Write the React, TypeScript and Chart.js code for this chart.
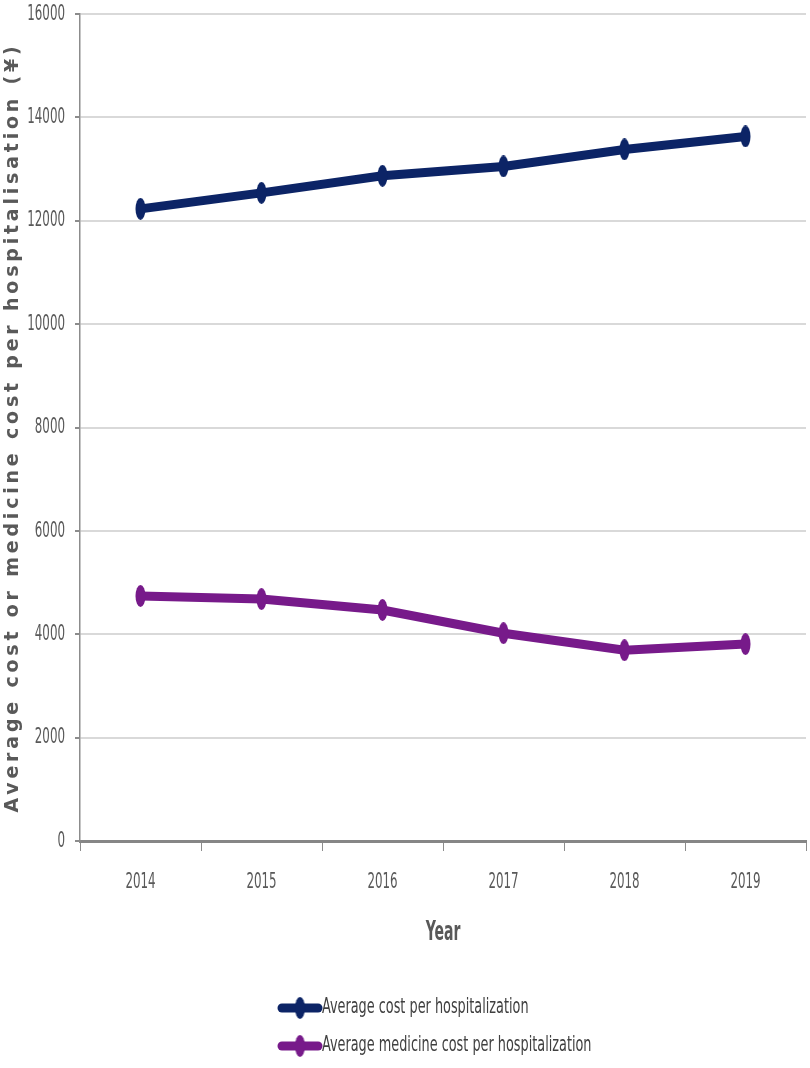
import { useEffect, useRef } from 'react';
import { Chart, registerables } from 'chart.js';

Chart.register(...registerables);

const years = ['2014', '2015', '2016', '2017', '2018', '2019'];
const avgCost = [12230, 12540, 12870, 13050, 13380, 13630];
const avgMedicineCost = [4740, 4680, 4470, 4020, 3690, 3810];
const seriesNames = [
  'Average cost per hospitalization',
  'Average medicine cost per hospitalization',
];
const yTitle = 'Average cost or medicine cost per hospitalisation (¥)';
const xTitle = 'Year';

const NAVY = '#0c2466';
const PURPLE = '#771a8a';
const TEXT = '#595959';
const FAM = "'DejaVu Sans', sans-serif";

// tall ellipse used as the marker
const makeMarker = (color) => {
  const c = document.createElement('canvas');
  c.width = 11;
  c.height = 22;
  const g = c.getContext('2d');
  g.fillStyle = color;
  g.beginPath();
  g.ellipse(5.5, 11, 5, 11, 0, 0, Math.PI * 2);
  g.fill();
  return c;
};

// text drawn horizontally squeezed, like the narrow office font
const squeezed = (ctx, text, x, y, font, sx, align) => {
  ctx.save();
  ctx.translate(x, y);
  ctx.scale(sx, 1);
  ctx.font = font;
  ctx.textAlign = align;
  ctx.textBaseline = 'middle';
  ctx.fillText(text, 0, 0);
  ctx.restore();
};

const textLayer = {
  id: 'textLayer',
  afterDraw(chart) {
    const ctx = chart.ctx;
    const { x, y } = chart.scales;
    const area = chart.chartArea;
    ctx.save();
    ctx.fillStyle = TEXT;

    // axis tick labels, placed by the scales
    y.ticks.forEach((t) => {
      squeezed(ctx, String(t.value), 65, y.getPixelForValue(t.value), `condensed 22px ${FAM}`, 0.6, 'right');
    });
    x.ticks.forEach((t, i) => {
      squeezed(ctx, chart.data.labels[i], x.getPixelForTick(i), 882, `condensed 22px ${FAM}`, 0.6, 'center');
    });

    squeezed(ctx, xTitle, (area.left + area.right) / 2, 933, `bold condensed 26px ${FAM}`, 0.6, 'center');

    // rotated y title with spread letters
    ctx.save();
    ctx.translate(13, (area.top + area.bottom) / 2);
    ctx.rotate(-Math.PI / 2);
    ctx.font = `bold 19px ${FAM}`;
    ctx.letterSpacing = '3.8px';
    ctx.textAlign = 'center';
    ctx.textBaseline = 'middle';
    ctx.fillText(yTitle, 0, 0);
    ctx.restore();

    // legend, two rows
    const x0 = 282;
    const rows = [1008, 1046];
    chart.data.datasets.forEach((ds, i) => {
      const ry = rows[i];
      ctx.strokeStyle = ds.borderColor;
      ctx.lineWidth = 9;
      ctx.lineCap = 'round';
      ctx.beginPath();
      ctx.moveTo(x0, ry);
      ctx.lineTo(x0 + 36, ry);
      ctx.stroke();
      const m = ds.pointStyle;
      ctx.drawImage(m, x0 + 18 - m.width / 2, ry - m.height / 2);
      ctx.fillStyle = '#404040';
      squeezed(ctx, ds.label, x0 + 40, ry, `condensed 21px ${FAM}`, 0.68, 'left');
    });
    ctx.restore();
  },
};

export default function App() {
  const chartRef = useRef(null);
  const chartInstance = useRef(null);

  useEffect(() => {
    document.body.style.margin = '0';
    if (chartInstance.current) {
      chartInstance.current.destroy();
    }
    const ctx = chartRef.current.getContext('2d');

    chartInstance.current = new Chart(ctx, {
      type: 'line',
      data: {
        labels: years,
        datasets: [
          {
            label: seriesNames[0],
            data: avgCost,
            borderColor: NAVY,
            backgroundColor: NAVY,
            borderWidth: 9,
            pointStyle: makeMarker(NAVY),
            pointRadius: 11,
            fill: false,
            tension: 0,
          },
          {
            label: seriesNames[1],
            data: avgMedicineCost,
            borderColor: PURPLE,
            backgroundColor: PURPLE,
            borderWidth: 9,
            pointStyle: makeMarker(PURPLE),
            pointRadius: 11,
            fill: false,
            tension: 0,
          },
        ],
      },
      options: {
        responsive: false,
        animation: false,
        layout: { autoPadding: false, padding: { top: 14, right: 4, bottom: 117, left: 0 } },
        plugins: {
          legend: { display: false },
          tooltip: { enabled: false },
        },
        scales: {
          x: {
            offset: true,
            grid: {
              offset: true,
              drawOnChartArea: false,
              drawTicks: true,
              tickLength: 10,
              tickColor: '#8c8c8c',
              lineWidth: 1,
            },
            border: { display: true, color: '#868686', width: 3 },
            ticks: { display: false },
            afterFit: (scale) => {
              scale.height = 110;
              scale.paddingLeft = 0;
              scale.paddingRight = 0;
            },
          },
          y: {
            min: 0,
            max: 16000,
            ticks: { stepSize: 2000, display: false },
            grid: {
              color: '#d9d9d9',
              lineWidth: 2,
              tickLength: 5,
              tickColor: '#8c8c8c',
            },
            border: { display: true, color: '#8c8c8c', width: 1.5 },
            afterFit: (scale) => {
              scale.width = 80;
              scale.paddingTop = 0;
              scale.paddingBottom = 0;
            },
          },
        },
      },
      plugins: [textLayer],
    });

    return () => {
      if (chartInstance.current) {
        chartInstance.current.destroy();
        chartInstance.current = null;
      }
    };
  }, []);

  return (
    <div style={{ width: 810, height: 1068, background: '#fff' }}>
      <canvas ref={chartRef} width={810} height={1068}></canvas>
    </div>
  );
}
